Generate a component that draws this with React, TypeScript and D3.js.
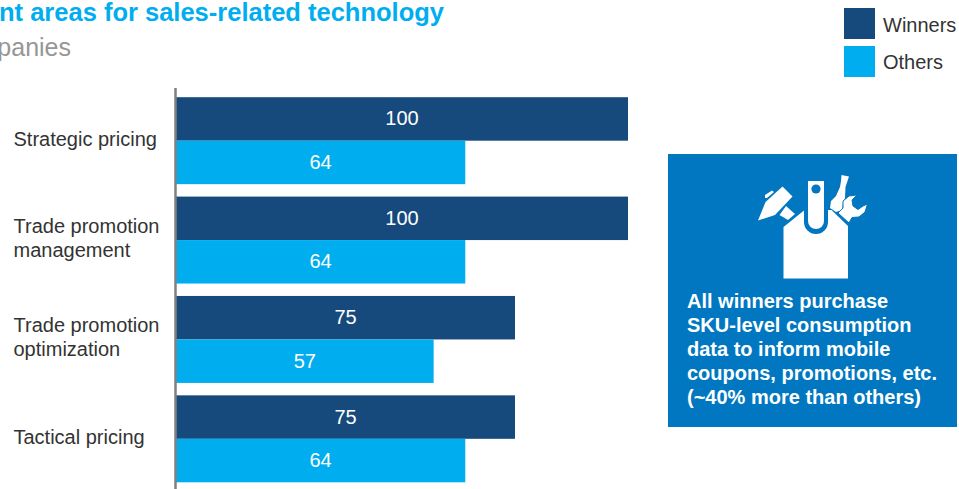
import React from "react";
import * as d3 from "d3";

const categories = ["Strategic pricing", "Trade promotion management", "Trade promotion optimization", "Tactical pricing"];
const categoryLines = [["Strategic pricing"], ["Trade promotion", "management"], ["Trade promotion", "optimization"], ["Tactical pricing"]];
const winners = [100, 100, 75, 75];
const others = [64, 64, 57, 64];
const seriesNames = ["Winners", "Others"];
const seriesColors = ["#164A7C", "#00AEEF"];
const calloutLines = [
  "All winners purchase",
  "SKU-level consumption",
  "data to inform mobile",
  "coupons, promotions, etc.",
  "(~40% more than others)",
];

const FONT = "'Liberation Sans', Arial, sans-serif";
const WIDTH = 959;
const HEIGHT = 489;

const x = d3.scaleLinear().domain([0, 100]).range([176, 628]);
const y = d3.scaleBand<string>().domain(categories).range([91, 488.5]).paddingInner(0.125).paddingOuter(0.0625);

function ToolIcon() {
  const blue = "#0077C0";
  return (
    <g fill="#fff">
      {/* screwdriver */}
      <path d="M841.5 175 L849 176.5 L847.5 181 L845.5 187 L845 198 L843 203 L842 210 L836 212 L830 208 L831 201 L836 196 L840 187 L841 181 Z" />
      {/* spanner, with a keyline where it crosses the screwdriver */}
      <path
        d="M843 201 L849 196 L857 195 L852 200 L853 206 L858 209.5 L863 206 L867.5 204 L865 212 L859 217 L852 217.5 L849 223 L838 213 L843 208 Z"
        stroke={blue}
        strokeWidth={1}
      />
      {/* box with the slot for the ruler */}
      <path d="M783.5 227 L804 210.5 L804 222 A12 12 0 0 0 828 222 L828 210 L831.5 210 L848 226 L848 278.5 L783.5 278.5 Z" />
      <path d="M808 181 L824 181 L824 221 A8 8 0 0 1 808 221 Z" />
      <circle cx="816" cy="189" r="4.6" fill={blue} />
      {/* hammer */}
      <path d="M758 220.5 L765.5 202 L782.5 186.5 L792.5 196.5 L775 215 Z" />
      <path d="M765 198 L765 195 L772 190.5 L774 192 L767 198 Z" />
      <path d="M779.5 215 L786 206 L795 214 L788 220 Z" />
    </g>
  );
}

export default function App() {
  const inner = d3.scaleBand<string>().domain(seriesNames).range([0, y.bandwidth()]);
  const rows = categories.map((c, i) => ({ c, values: [winners[i], others[i]], lines: categoryLines[i] }));
  return (
    <svg
      width={WIDTH}
      height={HEIGHT}
      viewBox={`0 0 ${WIDTH} ${HEIGHT}`}
      style={{ position: "absolute", left: 0, top: 0, background: "#fff" }}
      fontFamily={FONT}
    >
      <text x={444} y={21} textAnchor="end" fontSize={25.5} fontWeight={700} fill="#00AEEF">
        nt areas for sales-related technology
      </text>
      <text x={71} y={56} textAnchor="end" fontSize={25} fill="#969696">
        panies
      </text>

      {seriesNames.map((name, i) => (
        <g key={name}>
          <rect x={844} y={8 + i * 38} width={31} height={31} fill={seriesColors[i]} />
          <text x={883} y={32 + i * 37} fontSize={20} fill="#333">
            {name}
          </text>
        </g>
      ))}

      {rows.map((r) => (
        <g key={r.c}>
          {r.values.map((v, j) => {
            const top = (y(r.c) ?? 0) + (inner(seriesNames[j]) ?? 0);
            return (
              <g key={seriesNames[j]}>
                <rect x={x(0)} y={top} width={x(v) - x(0)} height={inner.bandwidth()} fill={seriesColors[j]} />
                <text x={(x(0) + x(v)) / 2} y={top + inner.bandwidth() / 2 + 6.5} textAnchor="middle" fontSize={20} fill="#fff">
                  {v}
                </text>
              </g>
            );
          })}
          {r.lines.map((line, k) => (
            <text
              key={line}
              x={13.5}
              y={(y(r.c) ?? 0) + y.bandwidth() / 2 + 5 + (k - (r.lines.length - 1) / 2) * 24}
              fontSize={20}
              fill="#333"
            >
              {line}
            </text>
          ))}
        </g>
      ))}

      <line x1={175.5} x2={175.5} y1={88} y2={HEIGHT} stroke="#808080" strokeWidth={2.5} />

      <rect x={668} y={154} width={289} height={273} fill="#0077C0" />
      <ToolIcon />
      {calloutLines.map((line, i) => (
        <text key={line} x={687} y={308 + i * 24} fontSize={20} fontWeight={700} fill="#fff">
          {line}
        </text>
      ))}
    </svg>
  );
}
